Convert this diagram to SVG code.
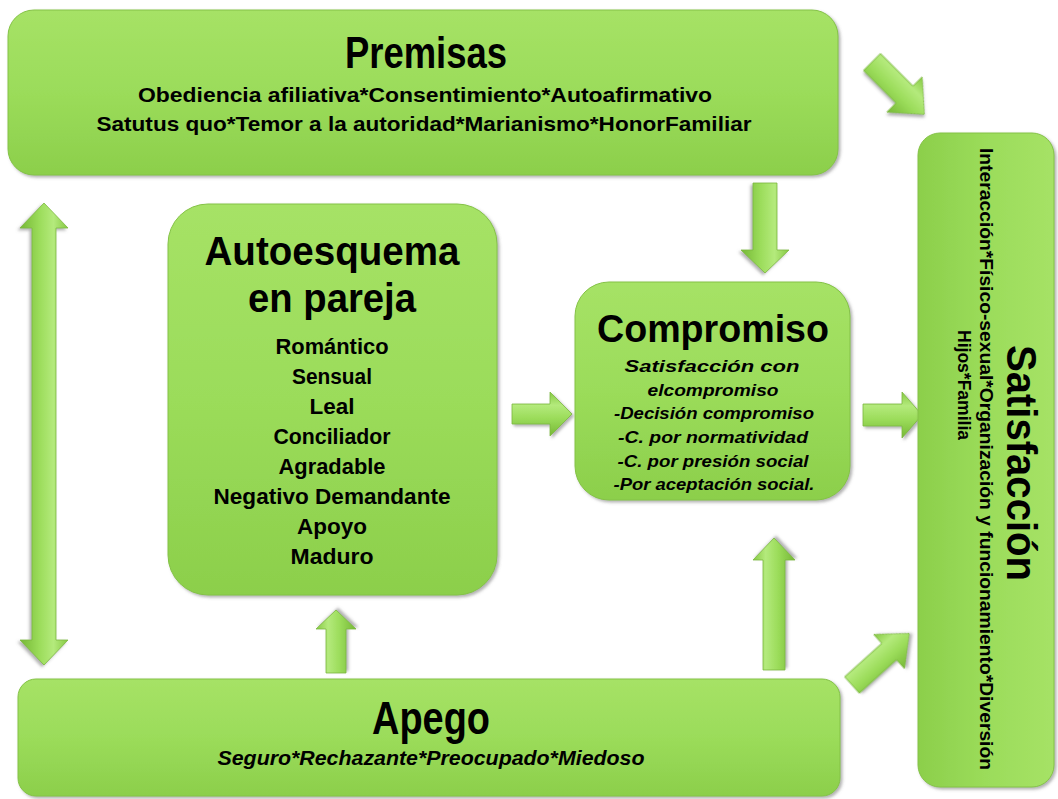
<svg xmlns="http://www.w3.org/2000/svg" width="1058" height="799" viewBox="0 0 1058 799">
  <defs>
    <linearGradient id="boxV" x1="0" y1="0" x2="0" y2="1">
      <stop offset="0" stop-color="#a6e266"/>
      <stop offset="0.5" stop-color="#9bdc5a"/>
      <stop offset="1" stop-color="#8ccf4b"/>
    </linearGradient>
    <linearGradient id="boxH" x1="0" y1="0" x2="1" y2="0">
      <stop offset="0" stop-color="#8ccf4b"/>
      <stop offset="0.5" stop-color="#9bdc5a"/>
      <stop offset="1" stop-color="#a6e266"/>
    </linearGradient>
    <linearGradient id="arrowG" x1="0" y1="0" x2="0" y2="1">
      <stop offset="0" stop-color="#86c943"/>
      <stop offset="0.3" stop-color="#b4ea7c"/>
      <stop offset="0.6" stop-color="#9bdc5a"/>
      <stop offset="1" stop-color="#76b836"/>
    </linearGradient>
    <filter id="shadow" x="-10%" y="-10%" width="120%" height="120%">
      <feDropShadow dx="2" dy="2" stdDeviation="1.5" flood-color="#666" flood-opacity="0.5"/>
    </filter>
  </defs>
  <style>
    .box { fill: url(#boxV); stroke: #84c246; stroke-width: 1; filter: url(#shadow); }
    .boxh { fill: url(#boxH); stroke: #84c246; stroke-width: 1; filter: url(#shadow); }
    .arrow { fill: url(#arrowG); stroke: #7cb83f; stroke-width: 0.8; filter: url(#shadow); }
    text { font-family: "Liberation Sans", Arial, sans-serif; font-weight: bold; fill: #000; text-anchor: middle; }
    .title { font-size: 44px; }
    .sub { font-size: 21px; }
    .item { font-size: 22px; }
    .ital { font-size: 17px; font-style: italic; }
  </style>
  <rect width="1058" height="799" fill="#ffffff"/>

  <g id="connectors">
    <!-- Premisas <-> Apego (double) -->
    <polygon class="arrow" transform="translate(44,203) rotate(90)" points="0,0 25,-24 25,-12 437,-12 437,-24 462,0 437,24 437,12 25,12 25,24"/>
    <!-- Premisas -> Compromiso -->
    <polygon class="arrow" transform="translate(765,183) rotate(90)" points="0,-12 67,-12 67,-24 90,0 67,24 67,12 0,12"/>
    <!-- Autoesquema -> Compromiso -->
    <polygon class="arrow" transform="translate(512,414)" points="0,-10 38,-10 38,-22 60,0 38,22 38,10 0,10"/>
    <!-- Compromiso -> Satisfaccion -->
    <polygon class="arrow" transform="translate(863,415)" points="0,-11 39,-11 39,-23 59,0 39,23 39,11 0,11"/>
    <!-- Apego -> Autoesquema -->
    <polygon class="arrow" transform="translate(336,673) rotate(-90)" points="0,-10 44,-10 44,-20 63,0 44,20 44,10 0,10"/>
    <!-- Apego -> Compromiso -->
    <polygon class="arrow" transform="translate(774,670) rotate(-90)" points="0,-11 110,-11 110,-21 132,0 110,21 110,11 0,11"/>
    <!-- Premisas -> Satisfaccion (diagonal) -->
    <polygon class="arrow" transform="translate(872,62) rotate(45)" points="0,-12 46,-12 46,-25 74,0 46,25 46,12 0,12"/>
    <!-- Apego -> Satisfaccion (diagonal) -->
    <polygon class="arrow" transform="translate(852,685) rotate(-42)" points="0,-11 50,-11 50,-23 77,0 50,23 50,11 0,11"/>
  </g>

  <g id="premisas">
    <rect class="box" x="8" y="10" width="830" height="165" rx="26" ry="26"/>
    <text class="title" x="426" y="68" textLength="162" lengthAdjust="spacingAndGlyphs">Premisas</text>
    <text class="sub" x="425" y="102" textLength="574" lengthAdjust="spacingAndGlyphs">Obediencia afiliativa*Consentimiento*Autoafirmativo</text>
    <text class="sub" x="424" y="131" textLength="655" lengthAdjust="spacingAndGlyphs">Satutus quo*Temor a la autoridad*Marianismo*HonorFamiliar</text>
  </g>

  <g id="autoesquema">
    <rect class="box" x="168" y="204" width="329" height="391" rx="40" ry="40"/>
    <text class="title" x="332" y="265" style="font-size:41px" textLength="255" lengthAdjust="spacingAndGlyphs">Autoesquema</text>
    <text class="title" x="332" y="312" style="font-size:41px" textLength="168" lengthAdjust="spacingAndGlyphs">en pareja</text>
    <text class="item" x="332" y="354" textLength="113" lengthAdjust="spacingAndGlyphs">Romántico</text>
    <text class="item" x="332" y="384" textLength="80" lengthAdjust="spacingAndGlyphs">Sensual</text>
    <text class="item" x="332" y="414" textLength="45" lengthAdjust="spacingAndGlyphs">Leal</text>
    <text class="item" x="332" y="444" textLength="117" lengthAdjust="spacingAndGlyphs">Conciliador</text>
    <text class="item" x="332" y="474" textLength="107" lengthAdjust="spacingAndGlyphs">Agradable</text>
    <text class="item" x="332" y="504" textLength="237" lengthAdjust="spacingAndGlyphs">Negativo  Demandante</text>
    <text class="item" x="332" y="534" textLength="70" lengthAdjust="spacingAndGlyphs">Apoyo</text>
    <text class="item" x="332" y="564" textLength="83" lengthAdjust="spacingAndGlyphs">Maduro</text>
  </g>

  <g id="compromiso">
    <rect class="box" x="575" y="282" width="275" height="218" rx="34" ry="34"/>
    <text class="title" x="713" y="342" style="font-size:38px" textLength="232" lengthAdjust="spacingAndGlyphs">Compromiso</text>
    <text class="ital" x="712" y="372" textLength="175" lengthAdjust="spacingAndGlyphs">Satisfacción con</text>
    <text class="ital" x="713" y="396" textLength="131" lengthAdjust="spacingAndGlyphs">elcompromiso</text>
    <text class="ital" x="714" y="419" textLength="200" lengthAdjust="spacingAndGlyphs">-Decisión compromiso</text>
    <text class="ital" x="713" y="443" textLength="190" lengthAdjust="spacingAndGlyphs">-C. por normatividad</text>
    <text class="ital" x="713" y="467" textLength="191" lengthAdjust="spacingAndGlyphs">-C. por presión social</text>
    <text class="ital" x="714" y="490" textLength="201" lengthAdjust="spacingAndGlyphs">-Por aceptación social.</text>
  </g>

  <g id="apego">
    <rect class="box" x="18" y="679" width="822" height="117" rx="18" ry="18"/>
    <text class="title" x="431" y="734" style="font-size:46px" textLength="118" lengthAdjust="spacingAndGlyphs">Apego</text>
    <text class="sub" x="431" y="765" font-style="italic" style="font-size:20px" textLength="427" lengthAdjust="spacingAndGlyphs">Seguro*Rechazante*Preocupado*Miedoso</text>
  </g>

  <g id="satisfaccion">
    <rect class="boxh" x="918" y="133" width="136" height="654" rx="22" ry="22"/>
    <text class="title" transform="translate(1007,463) rotate(90)" style="font-size:43px" textLength="236" lengthAdjust="spacingAndGlyphs">Satisfacción</text>
    <text transform="translate(980,459) rotate(90)" style="font-size:18px" textLength="622" lengthAdjust="spacingAndGlyphs">Interacción*Físico-sexual*Organización y funcionamiento*Diversión</text>
    <text transform="translate(958,385) rotate(90)" style="font-size:18px" textLength="110" lengthAdjust="spacingAndGlyphs">Hijos*Familia</text>
  </g>
</svg>
